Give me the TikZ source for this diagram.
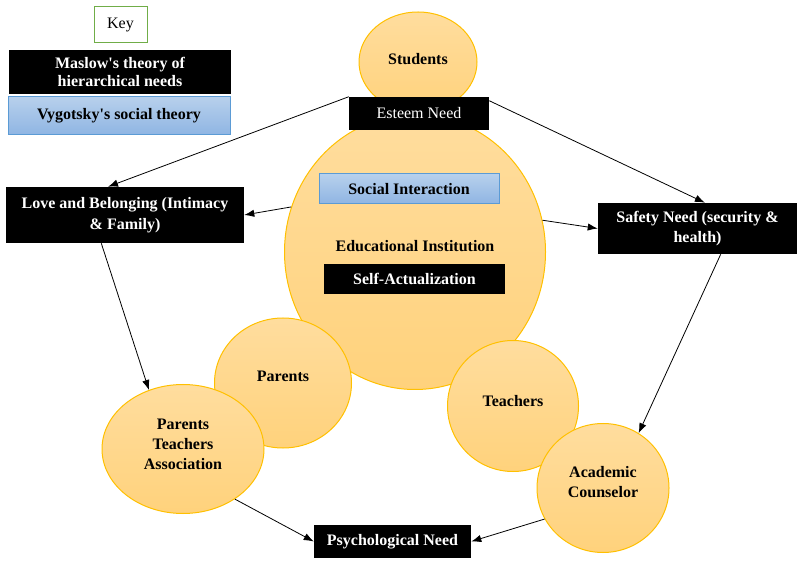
\documentclass[tikz,border=0pt]{standalone}
\usepackage{fontspec}
\setmainfont{Liberation Serif}
\usetikzlibrary{arrows.meta,shapes.geometric}

\definecolor{bubtop}{HTML}{FFDD9E}
\definecolor{bubbot}{HTML}{FFD27C}
\definecolor{bubline}{HTML}{FFC000}
\definecolor{vygtop}{HTML}{B7D0EC}
\definecolor{vygbot}{HTML}{8FB5E3}
\definecolor{vygline}{HTML}{5B9BD5}
\definecolor{keyline}{HTML}{70AD47}

% lift the text in a bubble without changing its size
\newcommand{\liftby}[2]{\raisebox{#1}[\height][\depth]{#2}}

\begin{document}
\begin{tikzpicture}[x=0.75pt,y=-0.75pt,
    bubble/.style={ellipse, draw=bubline, line width=0.75pt, top color=bubtop, bottom color=bubbot,
                   inner sep=0pt, align=center, font=\fontsize{12}{15}\selectfont\bfseries},
    maslow/.style={rectangle, fill=black, text=white, inner sep=0pt, align=center,
                   font=\fontsize{12}{15.5}\selectfont\bfseries},
    vygotsky/.style={rectangle, draw=vygline, line width=0.75pt, top color=vygtop, bottom color=vygbot,
                   inner sep=0pt, align=center, font=\fontsize{12}{15}\selectfont\bfseries},
    link/.style={-{Latex[length=7.5pt,width=5.5pt]}, line width=0.6pt}]

    % Fix the page to the size of the reference
    \useasboundingbox (0,0) rectangle (803,566);

    % The key in the top left corner
    \node[draw=keyline, line width=0.75pt, minimum width=39.75pt, minimum height=27pt,
          font=\fontsize{12}{14}\selectfont] (key) at (120.5,25) {Key};
    \node[maslow, minimum width=166.5pt, minimum height=33pt, font=\fontsize{12}{13.5}\selectfont\bfseries]
          (keymaslow) at (120,72) {Maslow\textquotesingle s theory of\\hierarchical needs};
    \node[vygotsky, minimum width=166.5pt, minimum height=28.5pt] (keyvygotsky) at (119,116)
          {Vygotsky\textquotesingle s social theory};

    % Bubbles: students on top, the institution in the middle
    \node[bubble, minimum width=88.5pt, minimum height=75pt] (students) at (418,62) {\liftby{2.25pt}{Students}};
    \node[bubble, minimum width=195.75pt, minimum height=206.25pt] (school) at (415,252)
          {\liftby{4.5pt}{Educational Institution}};

    % Bubbles round the bottom; later ones lie on top of earlier ones
    \node[bubble, minimum width=102.75pt, minimum height=97.5pt] (parents) at (283,383) {\liftby{5.25pt}{Parents}};
    \node[bubble, minimum width=121.5pt, minimum height=96.75pt] (pta) at (183,449)
          {\liftby{2.25pt}{\begin{tabular}{@{}c@{}}Parents\\Teachers\\Association\end{tabular}}};
    \node[bubble, minimum width=98.25pt, minimum height=98.25pt] (teachers) at (513,406) {\liftby{3.75pt}{Teachers}};
    \node[bubble, minimum width=99pt, minimum height=96.75pt] (counselor) at (603,488)
          {\liftby{3.75pt}{\begin{tabular}{@{}c@{}}Academic\\Counselor\end{tabular}}};

    % Needs (black) and social theory (blue) boxes
    \node[maslow, minimum width=105pt, minimum height=24.75pt, font=\fontsize{12}{15}\selectfont]
          (esteem) at (419,113.5) {Esteem Need};
    \node[vygotsky, minimum width=135pt, minimum height=22.5pt] (social) at (409,189) {Social Interaction};
    \node[maslow, minimum width=135.75pt, minimum height=22.5pt] (selfact) at (414.5,279) {Self-Actualization};
    \node[maslow, minimum width=178.5pt, minimum height=42pt] (love) at (125,215)
          {Love and Belonging (Intimacy\\\& Family)};
    \node[maslow, minimum width=149.25pt, minimum height=38.25pt] (safety) at (697.5,228.5)
          {Safety Need (security \&\\health)};
    \node[maslow, minimum width=117.75pt, minimum height=24.75pt] (psych) at (392.5,541.5) {Psychological Need};

    % Arrows between the needs
    \draw[link] (esteem.north west) -- (love.121);
    \draw[link] ([yshift=-3pt]esteem.north east) -- (safety.74);
    \draw[link] (school.160) -- (love.east);
    \draw[link] (school.14) -- (safety.west);
    \draw[link] (love.230) -- (pta.120);
    \draw[link] (safety.312) -- (counselor.57);
    \draw[link] (pta.316) -- (psych.west);
    \draw[link] (counselor.208) -- (psych.east);

\end{tikzpicture}
\end{document}
